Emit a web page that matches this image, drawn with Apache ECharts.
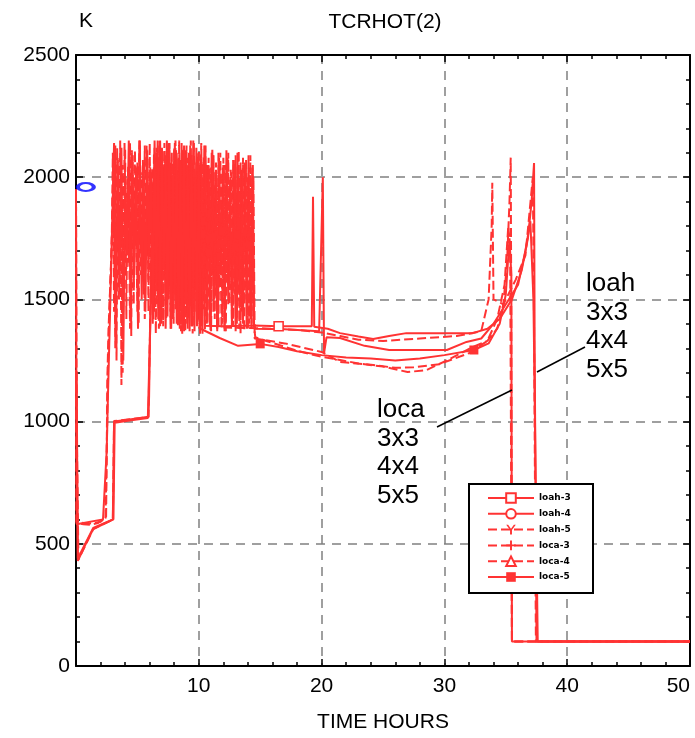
<!DOCTYPE html>
<html>
<head>
<meta charset="utf-8">
<script src="https://cdn.jsdelivr.net/npm/echarts@6/dist/echarts.min.js"></script>
<style>
  html, body { margin: 0; padding: 0; background: #ffffff; }
  #chart { width: 695px; height: 738px; }
</style>
</head>
<body>
<div id="chart"></div>
<script>
// ---- TCRHOT(2) core hot-spot temperature [K] vs time [h] ----

// Axis ticks
const xTicks = [0, 10, 20, 30, 40, 50];
const yTicks = [0, 500, 1000, 1500, 2000, 2500];

// Series names (legend order)
const seriesNames = ['loah-3', 'loah-4', 'loah-5', 'loca-3', 'loca-4', 'loca-5'];

// Oscillating burst phases are stored as evenly sampled values (start time, sample step)

// loah-3
const loah3Head = [[0, 1210], [0.05, 1200], [0.15, 430], [0.7, 490], [1.4, 560], [2.2, 580], [3.0, 600], [3.1, 1000], [4.5, 1010], [5.9, 1020], [5.95, 1100], [6.1, 1580]];
const loah3BurstStart = 6.2, loah3BurstStep = 0.15;
const loah3Burst = [1900, 1450, 2080, 1600, 2130, 1400, 2000, 1700, 2150, 1520,
  2060, 1420, 2110, 1650, 2030, 1380, 2140, 1500, 2070, 1400,
  2100, 1580, 2020, 1370, 2120, 1460, 2050, 1390, 2080];
const loah3Tail = [[10.5, 1392], [12, 1390], [14.5, 1393], [16.5, 1390], [19.2, 1390], [19.3, 1920], [19.4, 1388], [20.5, 1380], [21.5, 1362], [23, 1348], [24.2, 1338], [25.5, 1350], [26.9, 1362], [30, 1362], [32.3, 1362], [33.5, 1380], [34.5, 1420], [35.5, 1500], [36.3, 1620], [36.8, 1750], [37.1, 1900], [37.3, 2058], [37.35, 1300], [37.5, 100], [50, 100]];
const loah3Marks = [16.5];

// loah-4
const loah4Head = [[0, 1210], [0.15, 440], [1.4, 565], [2.2, 582], [3.05, 600], [3.15, 995], [4.5, 1005], [5.85, 1015], [6.0, 1300], [6.15, 1600]];
const loah4BurstStart = 6.25, loah4BurstStep = 0.15;
const loah4Burst = [1850, 1500, 2100, 1420, 2150, 1650, 2040, 1380, 2120, 1560,
  2010, 1460, 2140, 1400, 2080, 1620, 2030, 1370, 2110, 1500,
  2060, 1390, 2150, 1580, 2000, 1420, 2090, 1360, 2130, 1540,
  2050, 1400, 2100, 1450, 2020, 1370, 2080, 1600, 2040, 1380,
  2110, 1480, 1990, 1390, 2070, 1370, 2100, 1520, 2030, 1400,
  2060, 1380, 2090, 1420, 2040, 1395];
const loah4Tail = [[14.6, 1380], [17, 1378], [19.8, 1370], [20.1, 2000], [20.2, 1280], [20.4, 1345], [21.5, 1342], [23.5, 1310], [25.5, 1293], [30.2, 1293], [31.8, 1326], [33, 1340], [34, 1400], [35, 1480], [36, 1560], [36.6, 1700], [37.0, 1820], [37.25, 1500], [37.6, 100], [50, 100]];
const loah4Marks = [];

// loah-5
const loah5Head = [[0, 1210], [0.2, 435], [1.4, 560], [2.2, 580], [3.0, 598], [3.1, 1002], [5.9, 1018], [6.05, 1450]];
const loah5BurstStart = 6.3, loah5BurstStep = 0.15;
const loah5Burst = [2000, 1480, 2120, 1380, 2060, 1640, 2140, 1420, 2020, 1560,
  2100, 1400, 2150, 1500, 2040, 1370, 2110, 1600, 2070, 1420,
  2130, 1390, 2010, 1540, 2090, 1380, 2140, 1460, 2050, 1400,
  2080, 1370, 2120, 1500, 2030, 1390, 2060, 1380, 2000];
const loah5Tail = [[12.1, 1385], [15, 1382], [18, 1375], [20, 1365], [21.5, 1350], [23, 1335], [25, 1330], [28, 1340], [31, 1350], [33, 1370], [33.6, 1500], [33.85, 1800], [33.9, 1977], [34.0, 1500], [34.8, 1480], [35.8, 1580], [36.6, 1680], [37.2, 2000], [37.3, 1400], [37.45, 100], [50, 100]];
const loah5Marks = [];

// loca-3
const loca3Head = [[0, 1950], [0.05, 585], [0.6, 580], [1.2, 578], [1.8, 585], [2.1, 595], [2.4, 605], [2.5, 870], [2.55, 1170], [2.65, 1380], [2.9, 1700]];
const loca3BurstStart = 3.0, loca3BurstStep = 0.1;
const loca3Burst = [2100, 1450, 2130, 1250, 2080, 1600, 2150, 1150, 2050, 1700,
  2120, 1420, 2000, 1650, 2140, 1350, 2090, 1480, 2110, 1720,
  2060, 1400, 2150, 1600, 2020, 1520, 2130, 1680, 2080, 1450,
  2140, 1560, 2040, 1420, 2120, 1700, 2090, 1480, 2150, 1600,
  2030, 1390, 2110, 1650, 2070, 1500, 2140, 1420, 2000, 1580,
  2120, 1460, 2080, 1390, 2150, 1620, 2050, 1400, 2100, 1530,
  2130, 1380, 2020, 1470, 2090, 1360, 2140, 1540, 2060, 1400,
  2110, 1380, 2000, 1500, 2080, 1370, 2050, 1450, 1980, 1390,
  2040, 1600, 2090, 1420, 2060, 1380, 2100, 1550, 2020, 1400,
  2080, 1370, 2050, 1600, 2100, 1480, 2030, 1390, 2070, 1520,
  2090, 1400, 2010, 1380, 2060, 1450, 2080, 1370, 2040, 1500,
  2000, 1400, 2090, 1380, 2050, 1390];
const loca3Tail = [[14.6, 1345], [15.5, 1330], [18, 1290], [20, 1265], [21.5, 1252], [23, 1238], [25, 1225], [27, 1203], [28.5, 1210], [30.4, 1255], [32.3, 1305], [33.5, 1330], [34.3, 1380], [34.8, 1480], [35.1, 1650], [35.3, 1900], [35.4, 2080], [35.45, 1400], [35.5, 100], [50, 100]];
const loca3Marks = [];

// loca-4
const loca4Head = [[0, 1950], [0.05, 590], [1.0, 582], [2.0, 590], [2.45, 610], [2.5, 860], [2.6, 1200], [2.7, 1420], [2.95, 1800]];
const loca4BurstStart = 3.05, loca4BurstStep = 0.15;
const loca4Burst = [2060, 1300, 2120, 1500, 1980, 1200, 2140, 1620, 2050, 1380,
  2110, 1550, 2000, 1450, 2150, 1700, 2070, 1420, 2130, 1580,
  2040, 1480, 2100, 1360, 2150, 1640, 2020, 1410, 2090, 1500,
  2140, 1380, 2060, 1560, 2110, 1400, 2030, 1620, 2120, 1370,
  2080, 1500, 2150, 1390, 2000, 1450, 2100, 1360, 2060, 1580,
  2130, 1400, 2040, 1370, 2090, 1520, 2010, 1380, 2100, 1460,
  2050, 1370, 2080, 1550, 2020, 1390, 2060, 1420, 2110, 1360,
  2030, 1480, 2070, 1380, 2040, 1400, 2000];
const loca4Tail = [[14.55, 1340], [17, 1320], [20, 1285], [21.5, 1244], [24.2, 1232], [26, 1220], [27.5, 1222], [29.6, 1235], [32, 1280], [33.5, 1330], [34.3, 1420], [34.9, 1560], [35.2, 1800], [35.35, 1720], [35.5, 100], [50, 100]];
const loca4Marks = [];

// loca-5
const loca5Head = [[0, 1950], [0.05, 580], [2.2, 600], [2.5, 880], [2.6, 1100], [2.8, 1500]];
const loca5BurstStart = 3.1, loca5BurstStep = 0.15;
const loca5Burst = [2140, 1350, 2070, 1550, 2120, 1250, 2000, 1680, 2150, 1420,
  2090, 1600, 2040, 1380, 2130, 1500, 2060, 1450, 2110, 1700,
  2020, 1400, 2150, 1560, 2080, 1390, 2120, 1620, 2050, 1430,
  2140, 1380, 2010, 1520, 2100, 1400, 2070, 1360, 2130, 1480,
  2040, 1370, 2090, 1550, 2000, 1390, 2060, 1380];
const loca5Tail = [[10.2, 1375], [11.7, 1342], [13.2, 1310], [15, 1318], [16.5, 1305], [18, 1288], [20, 1272], [22, 1262], [24, 1258], [26, 1250], [28, 1258], [30, 1272], [32.4, 1293], [33.6, 1320], [34.5, 1400], [35, 1520], [35.3, 1750], [35.45, 1600], [35.5, 100], [50, 100]];
const loca5Marks = [15, 32.4];

// Initial-state marker (blue)
const initMarkT = [0.8];
const initMarkV = [1960];

// ---- assemble ----
function buildSeries(head, t0, dt, burst, tail) {
  const pts = head.map(p => p.slice());
  burst.forEach((v, i) => pts.push([+(t0 + i * dt).toFixed(3), v]));
  tail.forEach(p => pts.push(p.slice()));
  return pts;
}
function marksFor(pts, times) {
  return times.map(t => {
    const p = pts.find(q => Math.abs(q[0] - t) < 1e-6);
    return { coord: p };
  });
}

const RED = '#ff3333';
const SYM_Y = 'path://M0,0L2,0L5,4L8,0L10,0L6,5.5L6,10L4,10L4,5.5Z';
const SYM_PLUS = 'path://M4,0H6V4H10V6H6V10H4V6H0V4H4Z';

const defs = [
  { name: seriesNames[0], pts: buildSeries(loah3Head, loah3BurstStart, loah3BurstStep, loah3Burst, loah3Tail), marks: loah3Marks, dashed: false, symbol: 'emptyRect', markSym: 'rect', hollow: true },
  { name: seriesNames[1], pts: buildSeries(loah4Head, loah4BurstStart, loah4BurstStep, loah4Burst, loah4Tail), marks: loah4Marks, dashed: false, symbol: 'emptyCircle', markSym: 'circle', hollow: true },
  { name: seriesNames[2], pts: buildSeries(loah5Head, loah5BurstStart, loah5BurstStep, loah5Burst, loah5Tail), marks: loah5Marks, dashed: true, symbol: SYM_Y, markSym: SYM_Y, hollow: false },
  { name: seriesNames[3], pts: buildSeries(loca3Head, loca3BurstStart, loca3BurstStep, loca3Burst, loca3Tail), marks: loca3Marks, dashed: true, symbol: SYM_PLUS, markSym: SYM_PLUS, hollow: false },
  { name: seriesNames[4], pts: buildSeries(loca4Head, loca4BurstStart, loca4BurstStep, loca4Burst, loca4Tail), marks: loca4Marks, dashed: true, symbol: 'emptyTriangle', markSym: 'triangle', hollow: true },
  { name: seriesNames[5], pts: buildSeries(loca5Head, loca5BurstStart, loca5BurstStep, loca5Burst, loca5Tail), marks: loca5Marks, dashed: false, symbol: 'rect', markSym: 'rect', hollow: false }
];

const lineSeries = defs.map(d => ({
  type: 'line',
  name: d.name,
  data: d.pts,
  xAxisIndex: 0,
  yAxisIndex: 0,
  symbol: d.symbol,
  symbolSize: 9,
  showSymbol: false,
  color: RED,
  lineStyle: { color: RED, width: 2, type: d.dashed ? [9, 4] : 'solid' },
  itemStyle: { color: RED },
  emphasis: { disabled: true },
  z: 2,
  markPoint: {
    symbol: d.markSym,
    symbolSize: 9,
    label: { show: false },
    itemStyle: d.hollow ? { color: '#ffffff', borderColor: RED, borderWidth: 1.6 } : { color: RED },
    data: marksFor(d.pts, d.marks)
  }
}));

const initSeries = {
  type: 'scatter',
  name: 'init',
  data: initMarkT.map((t, i) => [t, initMarkV[i]]),
  symbol: 'circle',
  symbolSize: [16, 8],
  itemStyle: { color: '#ffffff', borderColor: '#0000ff', borderWidth: 3 },
  z: 6
};

const FONT = 'Liberation Sans, Arial, sans-serif';
const GRID_DASH = { color: '#808080', width: 1.5, type: [9, 7] };
const TICK = { show: true, inside: true, length: 7, lineStyle: { color: '#000000', width: 1.5 } };
const MINOR = { show: true, splitNumber: 5, length: 4, lineStyle: { color: '#000000', width: 1.5 } };
const AXLINE = { show: true, onZero: false, lineStyle: { color: '#000000', width: 2 } };

function xAxisDef(pos, extra) {
  return Object.assign({
    type: 'value', position: pos,
    min: xTicks[0], max: xTicks[xTicks.length - 1], interval: xTicks[1] - xTicks[0],
    axisLine: AXLINE, axisTick: TICK, minorTick: MINOR,
    axisLabel: { show: false }, splitLine: { show: false }
  }, extra || {});
}
function yAxisDef(pos, extra) {
  return Object.assign({
    type: 'value', position: pos,
    min: yTicks[0], max: yTicks[yTicks.length - 1], interval: yTicks[1] - yTicks[0],
    axisLine: AXLINE, axisTick: TICK, minorTick: MINOR,
    axisLabel: { show: false }, splitLine: { show: false }
  }, extra || {});
}

const chart = echarts.init(document.getElementById('chart'), null, { renderer: 'canvas' });
chart.setOption({
  animation: false,
  backgroundColor: '#ffffff',
  grid: { left: 76, right: 5, top: 55, bottom: 72, containLabel: false, outerBoundsMode: 'none' },
  xAxis: [
    xAxisDef('bottom', {
      name: 'TIME HOURS', nameLocation: 'middle', nameGap: 46,
      nameTextStyle: { color: '#000', fontSize: 21, fontFamily: FONT },
      axisLabel: { show: true, color: '#000', fontSize: 21, fontFamily: FONT, margin: 10,
        alignMaxLabel: 'right',
        formatter: v => (v === xTicks[0] ? '' : String(v)) },
      splitLine: { show: true, lineStyle: GRID_DASH }
    }),
    xAxisDef('top')
  ],
  yAxis: [
    yAxisDef('left', {
      axisLabel: { show: true, color: '#000', fontSize: 21, fontFamily: FONT, margin: 6,
        formatter: v => String(v) },
      splitLine: { show: true, lineStyle: GRID_DASH }
    }),
    yAxisDef('right')
  ],
  legend: {
    data: seriesNames,
    orient: 'vertical',
    left: 487,
    top: 492,
    padding: 0,
    itemWidth: 46,
    itemHeight: 12,
    itemGap: 3.8,
    z: 30,
    backgroundColor: 'transparent',
    selectedMode: false,
    textStyle: { color: '#000', fontSize: 9, fontWeight: 'bold', fontFamily: 'DejaVu Sans, sans-serif', lineHeight: 12 }
  },
  graphic: [
    { type: 'rect', z: 20, shape: { x: 469, y: 484, width: 124, height: 109 },
      style: { fill: '#ffffff', stroke: '#000000', lineWidth: 2 } },
    { type: 'text', z: 20, x: 86, y: 21,
      style: { text: 'K', fill: '#000', font: '21px ' + FONT, textAlign: 'center', textVerticalAlign: 'middle' } },
    { type: 'text', z: 20, x: 385, y: 22,
      style: { text: 'TCRHOT(2)', fill: '#000', font: '21px ' + FONT, textAlign: 'center', textVerticalAlign: 'middle' } },
    { type: 'text', z: 20, x: 586, y: 270,
      style: { text: 'loah\n3x3\n4x4\n5x5', fill: '#000', font: '26px ' + FONT, lineHeight: 28.5, textAlign: 'left', textVerticalAlign: 'top' } },
    { type: 'text', z: 20, x: 377, y: 396,
      style: { text: 'loca\n3x3\n4x4\n5x5', fill: '#000', font: '26px ' + FONT, lineHeight: 28.5, textAlign: 'left', textVerticalAlign: 'top' } },
    { type: 'line', z: 20, shape: { x1: 437, y1: 427, x2: 512, y2: 390 },
      style: { stroke: '#000', lineWidth: 1.5 } },
    { type: 'line', z: 20, shape: { x1: 537, y1: 372, x2: 585, y2: 347 },
      style: { stroke: '#000', lineWidth: 1.5 } }
  ],
  series: lineSeries.concat([initSeries])
});
</script>
</body>
</html>
